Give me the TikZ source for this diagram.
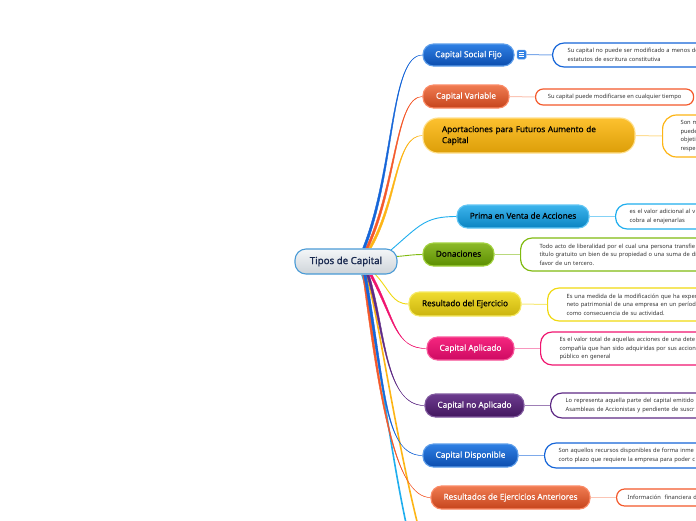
\documentclass[tikz,border=0pt]{standalone}
\usepackage{fontspec}
\usetikzlibrary{calc}
\setmainfont{Noto Sans}
\newfontfamily\topicfont[FakeBold=0.5]{Noto Sans}
\newfontfamily\rootfont[FakeBold=1.4]{Noto Sans}
\definecolor{ink}{HTML}{1A2A50}
\definecolor{Blue1}{HTML}{1565D8}\definecolor{Blue2}{HTML}{2F80E4}\definecolor{Blue3}{HTML}{0C4DAE}\definecolor{Blue4}{HTML}{5C9DEA}
\definecolor{Or1}{HTML}{F4592B}\definecolor{Or2}{HTML}{F07C52}\definecolor{Or3}{HTML}{C6441C}\definecolor{Or4}{HTML}{FB8A66}
\definecolor{Gd1}{HTML}{FDB515}\definecolor{Gd2}{HTML}{FDC12F}\definecolor{Gd3}{HTML}{DC9E08}\definecolor{Gd4}{HTML}{FFE08E}
\definecolor{Cy1}{HTML}{1FAEEE}\definecolor{Cy2}{HTML}{3DB4EC}\definecolor{Cy3}{HTML}{0A84C2}\definecolor{Cy4}{HTML}{62C6F4}
\definecolor{Gr1}{HTML}{80BA10}\definecolor{Gr2}{HTML}{8CB92A}\definecolor{Gr3}{HTML}{5C8F00}\definecolor{Gr4}{HTML}{A2D23E}
\definecolor{Ye1}{HTML}{F0D910}\definecolor{Ye2}{HTML}{F0DC30}\definecolor{Ye3}{HTML}{CBB40E}\definecolor{Ye4}{HTML}{F6EA66}
\definecolor{Pk1}{HTML}{F0156F}\definecolor{Pk2}{HTML}{F5267F}\definecolor{Pk3}{HTML}{CE0A62}\definecolor{Pk4}{HTML}{F85A9C}
\definecolor{Pu1}{HTML}{5E2A85}\definecolor{Pu2}{HTML}{6C3B8E}\definecolor{Pu3}{HTML}{43175F}\definecolor{Pu4}{HTML}{815A9F}
\definecolor{RootA}{HTML}{F4F6F8}\definecolor{RootB}{HTML}{CED4D9}\definecolor{RootC}{HTML}{4A9BD6}
\tikzset{x=1pt,y=-1pt,
  topic/.style={rounded corners=10.5pt,line width=1.1pt,inner sep=0pt,font=\topicfont\fontsize{8.2}{11}\selectfont},
  detail/.style={rounded corners=11.5pt,line width=1.2pt,fill=white,inner xsep=0pt,inner ysep=0pt,anchor=west,align=left,font=\fontsize{5.75}{8.6}\selectfont,text=black!80},
  link/.style={line width=1pt},
  branch/.style={line width=.4pt},
  thinbranch/.style={line width=.9pt}}
% name, x1, x2, y1, y2, top, bottom, border, text colour, content
\newcommand{\topicnode}[9]{%
  \node[topic,text height=6.2pt,text depth=1.8pt,minimum width=#3pt-#2pt,minimum height=#5pt-#4pt,top color=#6,bottom color=#7,draw=#8,text=#9] (#1) at ({(#2+#3)/2},{(#4+#5)/2})}
% name, x, y1, y2, colour, pad, text
\newcommand{\detailnode}[7]{%
  \pgfmathsetmacro{\mymid}{(#3+#4)/2}%
  \pgfmathsetmacro{\myh}{#4-#3}%
  \node[detail,draw=#5,minimum height=\myh pt,text width=500pt] (#1) at (#2,\mymid) {\hspace*{#6pt}\parbox[c]{480pt}{\raggedright #7}};}
% colour, start x, start y, c1, c2, target
\newcommand{\branchline}[6]{%
  \draw[branch,#1,fill=#1] (#2-1.3,#3) .. controls ($#4+(-1,0)$) and ($#5+(0,-.4)$) .. (#6) .. controls ($#5+(0,.4)$) and ($#4+(1,0)$) .. (#2+1.3,#3) -- cycle;}
\begin{document}
\begin{tikzpicture}
\useasboundingbox (0,0) rectangle (696,520);
\clip (0,0) rectangle (696,520);
\fill[white] (0,0) rectangle (696,520);

% right-hand boxes
\detailnode{d1}{552}{43}{67}{Blue1}{15}{Su capital no puede ser modificado a menos de\\estatutos de escritura constitutiva}
\node[detail,rounded corners=7.5pt,draw=Or1,minimum height=16pt,minimum width=158pt,align=center] (d2) at (535,97) {Su capital puede modificarse en cualquier tiempo};
\node[detail,rounded corners=14pt,draw=Gd1,minimum height=42pt,text width=500pt] (d3) at (662,136) {\hspace*{18pt}\parbox[c]{480pt}{\raggedright Son m\\puede\\objeti\\respe}};
\detailnode{d4}{615}{204}{229}{Cy1}{14}{es el valor adicional al v\\cobra al enajenarlas}
\detailnode{d5}{520}{238}{271}{Gr1}{19}{Todo acto de liberalidad por el cual una persona transfie\\título gratuito un bien de su propiedad o una suma de din\\favor de un tercero.}
\detailnode{d6}{547}{288}{321}{Ye1}{19}{Es una medida de la modificación que ha exper\\neto patrimonial de una empresa en un período\\como consecuencia de su actividad.}
\detailnode{d7}{540}{332}{365}{Pk1}{19}{Es el valor total de aquellas acciones de una dete\\compañía que han sido adquiridas por sus accion\\público en general}
\detailnode{d8}{550}{393}{418}{Pu1}{15}{Lo representa aquella parte del capital emitido\\Asambleas de Accionistas y pendiente de suscr}
\detailnode{d9}{544}{443}{468}{Blue1}{14}{Son aquellos recursos disponibles de forma inme\\corto plazo que requiere la empresa para poder c}
\node[detail,rounded corners=8pt,draw=Or1,minimum height=17pt,text width=500pt] (d10) at (616,497.5) {\hspace*{11pt}Información~ financiera d};

% topics
\topicnode{a1}{423}{514}{44}{66}{Blue2}{Blue3}{Blue4}{white}{Capital Social Fijo};
\topicnode{a2}{423}{509}{85}{108}{Or2}{Or3}{Or4}{white}{Capital Variable};
\node[topic,rounded corners=15pt,minimum width=212pt,minimum height=35pt,top color=Gd2,bottom color=Gd3,draw=Gd4,text=black,text width=174pt,align=left] (a3) at (529,135.5) {Aportaciones para Futuros Aumento de\\Capital};
\topicnode{a4}{457}{589}{205}{228}{Cy2}{Cy3}{Cy4}{black}{Prima en Venta de Acciones};
\topicnode{a5}{423}{494}{243}{266}{Gr2}{Gr3}{Gr4}{black}{Donaciones};
\topicnode{a6}{409}{521}{292}{316}{Ye2}{Ye3}{Ye4}{black}{Resultado del Ejercicio};
\topicnode{a7}{427}{514}{337}{360}{Pk2}{Pk3}{Pk4}{white}{Capital Aplicado};
\topicnode{a8}{425}{524}{394}{417}{Pu2}{Pu3}{Pu4}{white}{Capital no Aplicado};
\topicnode{a9}{423}{518}{444}{467}{Blue2}{Blue3}{Blue4}{white}{Capital Disponible};
\topicnode{a10}{431}{590}{486}{509}{Or2}{Or3}{Or4}{white}{Resultados de Ejercicios Anteriores};
\node[fill=Blue2,draw=Blue4,line width=.5pt,rounded corners=1.5pt,minimum width=9pt,minimum height=9pt,inner sep=0pt] (icon) at (521.5,54.5) {};
\draw[white,line width=.8pt] (518.8,52.5) -- (524.2,52.5) (518.8,54.5) -- (524.2,54.5) (518.8,56.5) -- (524.2,56.5);

% links topic to box
\draw[link,Blue1!55] (icon.east) -- (d1.west);
\draw[link,Or1!35] (a2.east) -- (d2.west);
\draw[link,Gd1!45] (a3.east) -- (d3.west);
\draw[link,Cy1!55] (a4.east) -- (d4.west);
\draw[link,Gr1!55] (a5.east) -- (d5.west);
\draw[link,Ye1!55] (a6.east) -- (d6.west);
\draw[link,Pk1!45] (a7.east) -- (d7.west);
\draw[link,Pu1!60] (a8.east) -- (d8.west);
\draw[link,Blue1!55] (a9.east) -- (d9.west);
\draw[link,Or1!35] (a10.east) -- (d10.west);

% branches from the centre
\coordinate (off1) at (411,545);
\coordinate (off2) at (423,545);
\draw[line width=1.6pt,Cy1] (362,275) .. controls (372,300) and (390,460) .. (off1);
\draw[line width=1.6pt,Gd1] (366,275) .. controls (378,310) and (395,440) .. (off2);
\branchline{Or1}{364}{275}{(380,400)}{(395,497.5)}{a10.west}
\branchline{Blue1}{365}{275}{(385,390)}{(385,455.5)}{a9.west}
\branchline{Pu1}{368}{275}{(385,330)}{(385,405.5)}{a8.west}
\branchline{Pk1}{371}{275}{(395,320)}{(395,348.5)}{a7.west}
\draw[thinbranch,Ye1] (375,274) .. controls (390,290) and (392,304) .. (a6.west);
\branchline{Gd1}{370}{248}{(398,200)}{(395,135.5)}{a3.west}
\branchline{Or1}{367}{248}{(397,185)}{(395,96.5)}{a2.west}
\branchline{Blue1}{364}{248}{(395,170)}{(390,55)}{a1.west}
\draw[thinbranch,Cy1] (391,250) .. controls (420,225) and (425,216.5) .. (a4.west);
\draw[thinbranch,Gr1] (396,256.5) .. controls (405,256) and (412,254.5) .. (a5.west);

% centre
\node[rounded corners=11pt,line width=1.1pt,inner sep=0pt,minimum width=102pt,minimum height=25pt,top color=RootA,bottom color=RootB,draw=RootC,text=ink,font=\rootfont\fontsize{9.7}{11}\selectfont] (root) at (346,261.5) {Tipos de Capital};
\end{tikzpicture}
\end{document}
